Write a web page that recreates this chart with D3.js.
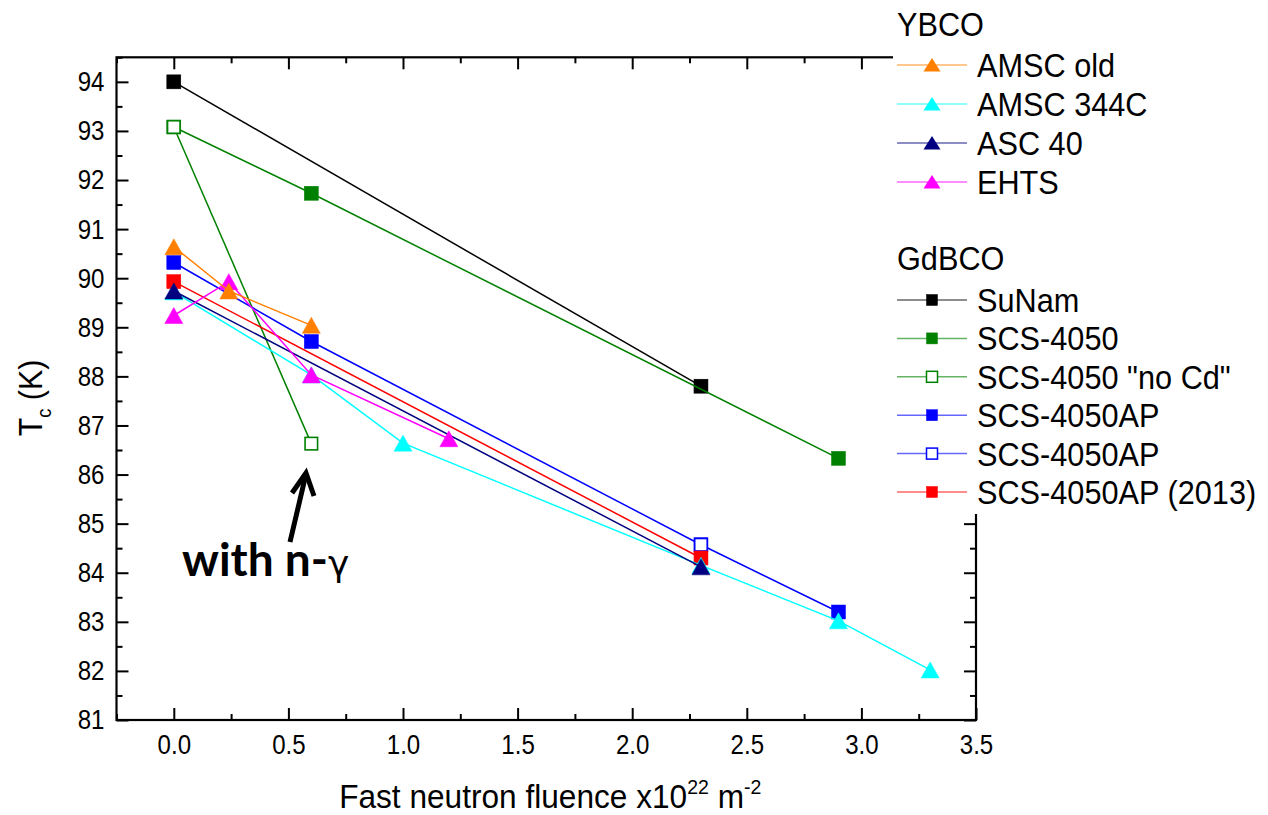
<!DOCTYPE html>
<html><head><meta charset="utf-8">
<script src="https://cdn.jsdelivr.net/npm/d3@7"></script>
<style>body{margin:0;background:#fff}text{font-family:"Liberation Sans",Arial,sans-serif}</style>
</head><body>
<svg id="c" width="1268" height="815"></svg>
<script>
// ---- data ----
const xMajorTicks = [0, 0.5, 1.0, 1.5, 2.0, 2.5, 3.0, 3.5];
const xMinorTicks = [-0.25, 0.25, 0.75, 1.25, 1.75, 2.25, 2.75, 3.25];
const yMajorTicks = [81, 82, 83, 84, 85, 86, 87, 88, 89, 90, 91, 92, 93, 94];
const yMinorTicks = [81.5, 82.5, 83.5, 84.5, 85.5, 86.5, 87.5, 88.5, 89.5, 90.5, 91.5, 92.5, 93.5, 94.5];

const sunamX = [0, 2.3];            const sunamY = [94.0, 87.8];
const scs4050X = [0, 0.6, 2.9];     const scs4050Y = [93.08, 91.73, 86.33];
const scsNoCdX = [0, 0.6];          const scsNoCdY = [93.08, 86.63];
const scsApX = [0, 0.6, 2.3, 2.9];  const scsApY = [90.32, 88.71, 84.57, 83.2];
const scsApOpenX = [2.3];           const scsApOpenY = [84.57];
const scsAp2013X = [0, 2.3];        const scsAp2013Y = [89.93, 84.30];
const amsc344X = [0, 0.6, 1.0, 2.3, 2.9, 3.3]; const amsc344Y = [89.72, 88.03, 86.64, 84.15, 83.02, 82.02];
const asc40X = [0, 2.3];            const asc40Y = [89.74, 84.12];
const ehtsX = [0, 0.24, 0.6, 1.2];  const ehtsY = [89.24, 89.93, 88.03, 86.73];
const amscOldX = [0, 0.24, 0.6];    const amscOldY = [90.64, 89.74, 89.04];

const groupYBCO = "YBCO";
const groupGdBCO = "GdBCO";
const ybcoNames = ["AMSC old", "AMSC 344C", "ASC 40", "EHTS"];
const gdbcoNames = ["SuNam", "SCS-4050", "SCS-4050 \"no Cd\"", "SCS-4050AP", "SCS-4050AP", "SCS-4050AP (2013)"];
const xTitle = "Fast neutron fluence x10";
const annotation = "with n-";

// ---- styles ----
const st = {
  sunam:   {color:"#000000", shape:"sq", fill:true},
  scs4050: {color:"#008000", shape:"sq", fill:true},
  noCd:    {color:"#008000", shape:"sq", fill:false},
  ap:      {color:"#0000FF", shape:"sq", fill:true},
  apOpen:  {color:"#0000FF", shape:"sq", fill:false},
  ap2013:  {color:"#FF0000", shape:"sq", fill:true},
  amsc344: {color:"#00FFFF", shape:"tri", fill:true},
  asc40:   {color:"#000080", shape:"tri", fill:true},
  ehts:    {color:"#FF00FF", shape:"tri", fill:true},
  amscOld: {color:"#FF8000", shape:"tri", fill:true}
};

const svg = d3.select("#c");
const L = 116.5, R = 976, T = 57.3, B = 720;
const x = d3.scaleLinear().domain([-0.25, 3.5]).range([L, R]);
const y = d3.scaleLinear().domain([81, 94.5]).range([B, T]);

// series in drawing order
const series = [
  {xs:sunamX, ys:sunamY, s:st.sunam},
  {xs:scs4050X, ys:scs4050Y, s:st.scs4050},
  {xs:scsNoCdX, ys:scsNoCdY, s:st.noCd},
  {xs:scsApX, ys:scsApY, s:st.ap},
  {xs:scsApOpenX, ys:scsApOpenY, s:st.apOpen},
  {xs:scsAp2013X, ys:scsAp2013Y, s:st.ap2013},
  {xs:amsc344X, ys:amsc344Y, s:st.amsc344},
  {xs:asc40X, ys:asc40Y, s:st.asc40},
  {xs:ehtsX, ys:ehtsY, s:st.ehts},
  {xs:amscOldX, ys:amscOldY, s:st.amscOld}
];

function marker(g, cx, cy, s) {
  if (s.shape === "sq") {
    const h = s.fill ? 14 : 12.5;
    g.append("rect").attr("x", cx - h/2).attr("y", cy - h/2).attr("width", h).attr("height", h)
      .attr("fill", s.fill ? s.color : "#fff").attr("stroke", s.color)
      .attr("stroke-width", s.fill ? 0.5 : 1.6);
  } else {
    const w = 9, h = 8;
    g.append("path").attr("d", `M${cx},${cy-h}L${cx+w},${cy+h}L${cx-w},${cy+h}Z`)
      .attr("fill", s.color).attr("stroke", s.color).attr("stroke-width", 0.5);
  }
}

const line = d3.line();
const plot = svg.append("g");
series.forEach(se => {
  const pts = se.xs.map((v, i) => [x(v), y(se.ys[i])]);
  const g = plot.append("g");
  if (pts.length > 1)
    g.append("path").attr("d", line(pts)).attr("fill", "none").attr("stroke", se.s.color).attr("stroke-width", 1.5);
  pts.forEach(p => marker(g, p[0], p[1], se.s));
});

// ---- axes ----
function styleAxis(g) {
  g.select(".domain").remove();
  g.selectAll(".tick line").attr("stroke", "#000").attr("stroke-width", 2);
}
const axG = svg.append("g");
const bx = axG.append("g").attr("transform", `translate(0,${B})`)
  .call(d3.axisBottom(x).tickValues(xMajorTicks).tickSizeInner(-12).tickSizeOuter(0).tickPadding(14).tickFormat(d3.format(".1f")));
styleAxis(bx);
bx.selectAll("text").attr("font-size", 28).attr("fill", "#000").attr("transform", "scale(0.86,1)");
axG.append("g").attr("transform", `translate(0,${B})`)
  .call(d3.axisBottom(x).tickValues(xMinorTicks).tickSizeInner(-6).tickSizeOuter(0).tickFormat("")).call(styleAxis);
axG.append("g").attr("transform", `translate(0,${T})`)
  .call(d3.axisTop(x).tickValues(xMajorTicks).tickSizeInner(-12).tickSizeOuter(0).tickFormat("")).call(styleAxis);
axG.append("g").attr("transform", `translate(0,${T})`)
  .call(d3.axisTop(x).tickValues(xMinorTicks).tickSizeInner(-6).tickSizeOuter(0).tickFormat("")).call(styleAxis);
const ly = axG.append("g").attr("transform", `translate(${L},0)`)
  .call(d3.axisLeft(y).tickValues(yMajorTicks).tickSizeInner(-12).tickSizeOuter(0).tickPadding(14).tickFormat(d3.format("d")));
styleAxis(ly);
ly.selectAll("text").attr("font-size", 28).attr("fill", "#000").attr("transform", "scale(0.86,1)");
axG.append("g").attr("transform", `translate(${L},0)`)
  .call(d3.axisLeft(y).tickValues(yMinorTicks).tickSizeInner(-6).tickSizeOuter(0).tickFormat("")).call(styleAxis);
axG.append("g").attr("transform", `translate(${R},0)`)
  .call(d3.axisRight(y).tickValues(yMajorTicks).tickSizeInner(-12).tickSizeOuter(0).tickFormat("")).call(styleAxis);
axG.append("g").attr("transform", `translate(${R},0)`)
  .call(d3.axisRight(y).tickValues(yMinorTicks).tickSizeInner(-6).tickSizeOuter(0).tickFormat("")).call(styleAxis);
axG.append("rect").attr("x", L).attr("y", T).attr("width", R - L).attr("height", B - T)
  .attr("fill", "none").attr("stroke", "#000").attr("stroke-width", 2.2);

// axis titles
const xt = svg.append("text").attr("transform", `translate(${(L+R)/2+4},808) scale(0.93,1)`)
  .attr("text-anchor", "middle").attr("font-size", 34).attr("fill", "#000");
xt.append("tspan").text(xTitle);
xt.append("tspan").attr("font-size", 21).attr("dy", -14).text("22");
xt.append("tspan").attr("dy", 14).text(" m");
xt.append("tspan").attr("font-size", 21).attr("dy", -14).text("-2");

const yt = svg.append("text").attr("transform", `translate(42,398) rotate(-90) scale(0.92,1)`)
  .attr("text-anchor", "middle").attr("font-size", 33).attr("fill", "#000");
yt.append("tspan").text("T");
yt.append("tspan").attr("font-size", 20).attr("dy", 9).text("c");
yt.append("tspan").attr("dy", -9).text(" (K)");

// annotation
const an = svg.append("text").attr("x", 182).attr("y", 576).attr("fill", "#000");
an.append("tspan").attr("font-family", "Lato, 'Open Sans', sans-serif").attr("font-weight", 700).attr("font-size", 46).text(annotation);
an.append("tspan").attr("font-family", "'DejaVu Sans', sans-serif").attr("font-size", 36).text("γ");
svg.append("path").attr("d", "M290,542L306,474").attr("stroke", "#000").attr("stroke-width", 5).attr("fill", "none");
svg.append("path").attr("d", "M292,493L306,473L314,496").attr("stroke", "#000").attr("stroke-width", 5)
  .attr("fill", "none").attr("stroke-linejoin", "miter");

// ---- legend ----
const lg = svg.append("g");
lg.append("rect").attr("x", 893).attr("y", 0).attr("width", 375).attr("height", 514).attr("fill", "#fff");
function legendTitle(t, yy) {
  lg.append("text").attr("transform", `translate(897,${yy}) scale(0.93,1)`).attr("font-size", 33).attr("fill", "#000").text(t);
}
function legendRow(name, s, yy) {
  lg.append("line").attr("x1", 897).attr("x2", 967).attr("y1", yy).attr("y2", yy)
    .attr("stroke", s.color).attr("stroke-width", 1.5).attr("stroke-opacity", 0.6);
  const g = lg.append("g");
  if (s.shape === "sq") {
    const h = 11;
    g.append("rect").attr("x", 932 - h/2).attr("y", yy - h/2).attr("width", h).attr("height", h)
      .attr("fill", s.fill ? s.color : "#fff").attr("stroke", s.color).attr("stroke-width", s.fill ? 0.5 : 1.5);
  } else {
    g.append("path").attr("d", `M932,${yy-7}L940.5,${yy+6.5}L923.5,${yy+6.5}Z`).attr("fill", s.color);
  }
  lg.append("text").attr("transform", `translate(977,${yy+12}) scale(0.93,1)`).attr("font-size", 33).attr("fill", "#000").text(name);
}
legendTitle(groupYBCO, 36);
const ybcoStyles = [st.amscOld, st.amsc344, st.asc40, st.ehts];
ybcoNames.forEach((n, i) => legendRow(n, ybcoStyles[i], 65 + i * 39));
legendTitle(groupGdBCO, 270);
const gdStyles = [st.sunam, st.scs4050, st.noCd, st.ap, st.apOpen, st.ap2013];
gdbcoNames.forEach((n, i) => legendRow(n, gdStyles[i], 300 + i * 38.4));
</script>
</body></html>
